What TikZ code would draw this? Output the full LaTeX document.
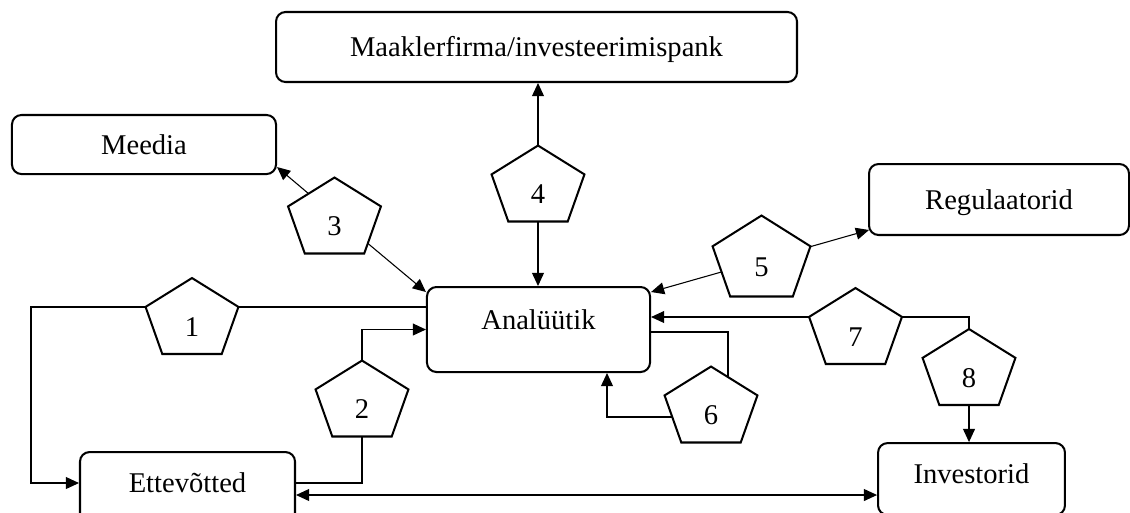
\documentclass[tikz,border=0pt]{standalone}
\usepackage{fontspec}
\setmainfont{Liberation Serif}
\usetikzlibrary{arrows.meta,calc,positioning}
\pgfdeclarelayer{lines}
\pgfdeclarelayer{shapes}
\pgfsetlayers{lines,shapes,main}
\tikzset{
    box/.style={draw, line width=0.85pt, rounded corners=4pt, inner sep=0pt,
        text height=9pt, text depth=1pt},
    pent/.style={inner sep=0pt, minimum width=38.6pt, minimum height=31.5pt,
        text height=17pt, text depth=0pt},
    pentline/.style={draw, fill=white, line width=0.85pt},
    conn/.style={line width=0.45pt}
}

\begin{document}
\begin{tikzpicture}[x=0.42pt, y=-0.42pt, >={Triangle[length=5.5pt,width=5pt]},
    font=\fontsize{12pt}{14pt}\selectfont]
    \useasboundingbox (0,0) rectangle (1130,512);

    \node[box, minimum width=110.9pt, minimum height=24.8pt] (med) at (144,144.5) {Meedia};
    \node[box, minimum width=218.8pt, minimum height=29.4pt] (mak) at (536.5,47) {Maaklerfirma/investeerimispank};
    \node[box, minimum width=109.2pt, minimum height=29.8pt] (reg) at (999,199.5) {Regulaatorid};
    \node[box, minimum width=93.7pt, minimum height=35.7pt, text height=6pt, text depth=6pt] (ana) at (538.5,329.5) {Analüütik};
    \node[box, minimum width=90.3pt, minimum height=30.2pt, text height=7pt, text depth=3pt] (ett) at (187.5,488) {Ettevõtted};
    \node[box, minimum width=78.5pt, minimum height=30.2pt, text height=7pt, text depth=3pt] (inv) at (971.5,479) {Investorid};

    \node[pent] (p1) at (192,316) {1};
    \node[pent] (p2) at (362,398.5) {2};
    \node[pent] (p3) at (334.5,215.5) {3};
    \node[pent] (p4) at (538,183.5) {4};
    \node[pent, minimum width=40.7pt, minimum height=33.6pt] (p5) at (761.5,256) {5};
    \node[pent] (p6) at (711,404.5) {6};
    \node[pent] (p7) at (855.5,326) {7};
    \node[pent] (p8) at (969,367) {8};

    % pentagon outlines
    \begin{pgfonlayer}{shapes}
    \foreach \n in {p1,p2,p3,p4,p5,p6,p7,p8}
        \draw[pentline] (\n.north) -- ($(\n.north east)!0.38!(\n.south east)$)
            -- ($(\n.south east)!0.18!(\n.south west)$) -- ($(\n.south west)!0.18!(\n.south east)$)
            -- ($(\n.north west)!0.38!(\n.south west)$) -- cycle;
    \end{pgfonlayer}

    % connectors
    \begin{pgfonlayer}{lines}
    \draw[conn,->] ($(ana.west)+(0,-22.5)$) -| ($(ett.west)+(-48,-5)$) -- ($(ett.west)+(0,-5)$);
    \draw[conn] ($(ett.east)+(0,-5)$) -| (p2.south);
    \draw[conn,->] (p2.north) |- (ana.west);
    \draw[conn,->] (p3.center) -- ($(med.south east)+(0,-8)$);
    \draw[conn,->] (p3.center) -- ($(ana.north west)+(0,6)$);
    \draw[conn,->] (p4.center) -- (mak.south -| p4);
    \draw[conn,->] (p4.center) -- (ana.north -| p4);
    \draw[conn,<->] ($(ana.north east)+(0,6)$) -- ($(reg.south west)+(1,-6)$);
    \draw[conn] ($(ana.east)+(0,2.5)$) -| ($(p6.center)+(17,0)$);
    \draw[conn,->] ($(p6.center)+(0,12.5)$) -| ($(ana.south)+(68.5,0)$);
    \draw[conn,->] (p8.north) |- ($(ana.east)+(0,-12.5)$);
    \draw[conn,->] (p8.south) -- (inv.north -| p8);
    \draw[conn,<->] ($(ett.east)+(0,7)$) -- ($(inv.west)+(0,16)$);
    \end{pgfonlayer}
\end{tikzpicture}
\end{document}
